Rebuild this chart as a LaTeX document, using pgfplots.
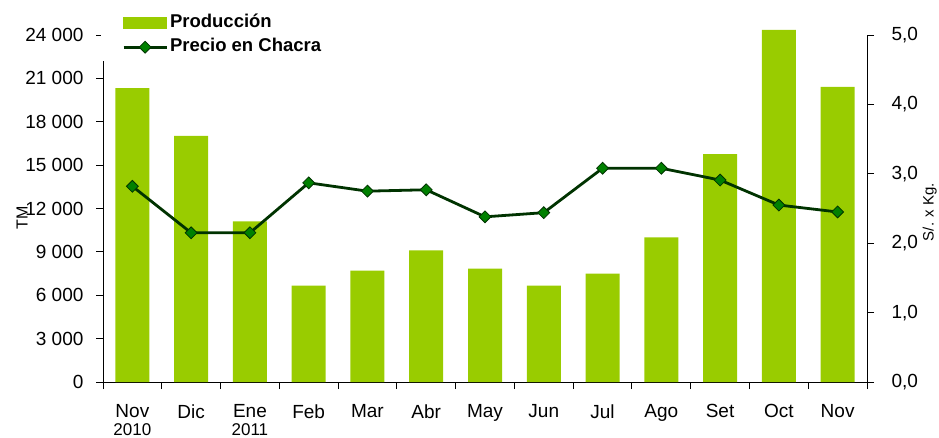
\documentclass[border=0pt]{standalone}
\usepackage{fontspec}
\setmainfont{Liberation Sans}
\usepackage{pgfplots}
\pgfplotsset{compat=1.18}
\definecolor{barG}{HTML}{99CC00}
\definecolor{lineG}{HTML}{003300}
\definecolor{markG}{HTML}{008000}
\pgfplotsset{
  barleg/.style={legend image code/.code={\fill[barG] (0pt,-5.5pt) rectangle (43pt,5.5pt);}},
  lineleg/.style={legend image code/.code={\draw[mark repeat=2,mark phase=2,##1] plot coordinates {(0pt,0pt)(21.5pt,0pt)(43pt,0pt)};}},
  common/.style={
    width=764pt, height=347pt, scale only axis,
    at={(103pt,55pt)}, anchor=south west,
    xmin=-0.5, xmax=12.5,
    axis line style={-, line width=0.9pt, black},
    tick align=outside,
    major tick length=7pt,
    minor tick length=7pt,
    every tick/.style={black, line width=0.9pt},
    tick label style={font=\fontsize{19}{19}\selectfont},
    /pgf/number format/assume math mode=true,
  }
}
\begin{document}
\begin{tikzpicture}
\useasboundingbox (0,0) rectangle (939pt,437pt);
\begin{axis}[common,
  axis x line*=bottom, axis y line*=left,
  ymin=0, ymax=24000, ytick={0,3000,...,24000},
  scaled y ticks=false,
  /pgf/number format/1000 sep={\ },
  xtick={0,...,12},
  xticklabels={{Nov\\[-1pt]{\fontsize{17}{17}\selectfont 2010}}, Dic, {Ene\\[-1pt]{\fontsize{17}{17}\selectfont 2011}}, Feb, Mar, Abr, May, Jun, Jul, Ago, Set, Oct, Nov},
  xticklabel style={align=center, anchor=north, yshift=-12pt},
  major x tick style={draw=none},
  minor xtick={-0.5,0.5,...,12.5},
  yticklabel style={xshift=-9pt},
  ylabel={TM},
  ylabel style={at={(axis description cs:-0.106,0.473)}, anchor=center, rotate=0, font=\fontsize{16}{16}\selectfont},
  clip=false,
]
\addplot[ybar, bar width=34pt, fill=barG, draw=none] coordinates {
(0,20330) (1,17030) (2,11110) (3,6670) (4,7710) (5,9100) (6,7850) (7,6670) (8,7500) (9,10000) (10,15760) (11,24350) (12,20420)
};
\end{axis}
\begin{axis}[common,
  hide x axis, axis y line*=right,
  ymin=0, ymax=5, ytick={0,...,5},
  yticklabel style={xshift=14pt, /pgf/number format/.cd, fixed, fixed zerofill, precision=1, use comma},
  ylabel={S/. x Kg.},
  ylabel style={at={(axis description cs:1.082,0.49)}, anchor=center, rotate=0, font=\fontsize{15}{15}\selectfont},
  legend style={at={(axis description cs:-0.0026,1.075)}, anchor=north west, draw=none, fill=white,
    font=\bfseries\fontsize{18.5}{18.5}\selectfont, inner xsep=21pt, inner ysep=2pt,
    nodes={text height=12.5pt, text depth=3pt, inner ysep=4.25pt}},
  legend cell align=left,
]
\addlegendimage{barleg}
\addlegendentry{Producción}
\addplot[color=lineG, line width=2.8pt, mark=square*, mark size=4.2pt,
  mark options={rotate=45, fill=markG, draw=lineG, line width=0.8pt},
  lineleg] coordinates {
(0,2.82) (1,2.15) (2,2.15) (3,2.87) (4,2.75) (5,2.77) (6,2.38) (7,2.44) (8,3.08) (9,3.08) (10,2.91) (11,2.55) (12,2.45)
};
\addlegendentry{Precio en Chacra}
\end{axis}
\end{tikzpicture}
\end{document}
